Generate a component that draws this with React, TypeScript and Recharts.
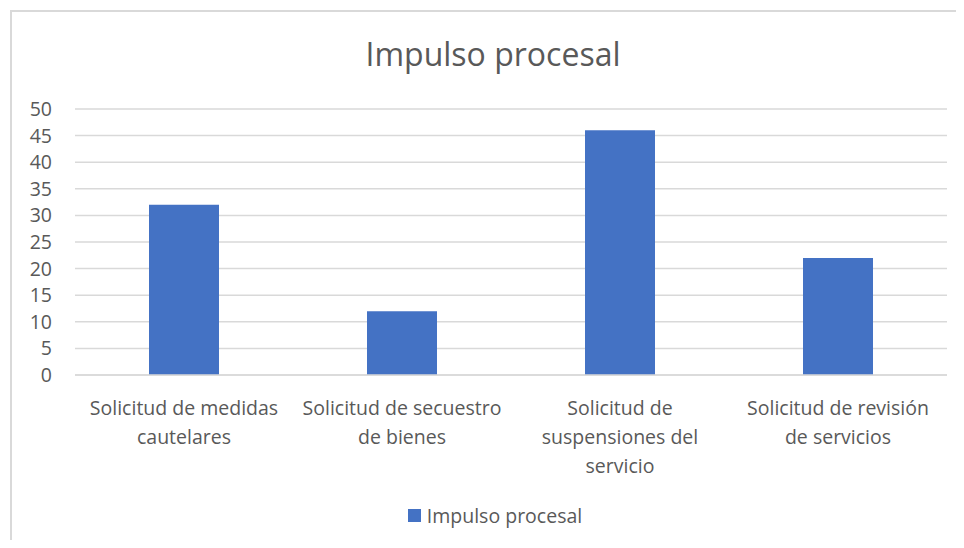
import React from "react";
import { BarChart, Bar, XAxis, YAxis, CartesianGrid, Legend } from "recharts";

const categories = [
  "Solicitud de medidas\ncautelares",
  "Solicitud de secuestro\nde bienes",
  "Solicitud de\nsuspensiones del\nservicio",
  "Solicitud de revisión\nde servicios",
];
const impulsoValues = [32, 12, 46, 22];
const yTicks = [0, 5, 10, 15, 20, 25, 30, 35, 40, 45, 50];

const seriesName = "Impulso procesal";
const barColor = "#4472c4";
const textColor = "#595959";
const gridColor = "#d9d9d9";
const font = "'Open Sans', sans-serif";

const data = categories.map((name, i) => ({ name, value: impulsoValues[i] }));

interface TickProps {
  x?: number;
  y?: number;
  payload?: { value: string };
}

function CategoryTick({ x = 0, y = 0, payload }: TickProps) {
  const lines = (payload?.value ?? "").split("\n");
  return (
    <text
      x={x}
      y={y}
      textAnchor="middle"
      fill={textColor}
      fontSize={19.5}
      fontFamily={font}
    >
      {lines.map((line, i) => (
        <tspan key={i} x={x} dy={i === 0 ? 32 : 29}>
          {line}
        </tspan>
      ))}
    </text>
  );
}

function LegendContent() {
  return (
    <div
      style={{
        display: "flex",
        alignItems: "center",
        justifyContent: "center",
        paddingLeft: 26,
        fontFamily: font,
        fontSize: 19.5,
        color: textColor,
      }}
    >
      <span
        style={{
          display: "inline-block",
          width: 13,
          height: 13,
          background: barColor,
          marginRight: 6,
        }}
      />
      {seriesName}
    </div>
  );
}

export default function App() {
  return (
    <div
      style={{
        position: "relative",
        margin: -8,
        width: 964,
        height: 548,
        overflow: "hidden",
        background: "#fff",
      }}
    >
      <div
        style={{
          position: "absolute",
          left: 10,
          top: 10,
          width: 1000,
          height: 600,
          border: `2px solid ${gridColor}`,
          boxSizing: "border-box",
        }}
      />
      <div
        style={{
          position: "absolute",
          left: 0,
          width: 986,
          top: 32,
          textAlign: "center",
          fontFamily: font,
          fontSize: 32,
          color: textColor,
        }}
      >
        {seriesName}
      </div>
      <div style={{ position: "absolute", left: 0, top: 0 }}>
        <BarChart
          width={964}
          height={548}
          data={data}
          margin={{ top: 109, right: 17, bottom: 46, left: 10 }}
        >
          <CartesianGrid vertical={false} stroke={gridColor} strokeWidth={1.5} />
          <XAxis
            dataKey="name"
            axisLine={{ stroke: gridColor, strokeWidth: 1.5 }}
            tickLine={false}
            interval={0}
            tick={<CategoryTick />}
            height={100}
          />
          <YAxis
            domain={[0, 50]}
            ticks={yTicks}
            interval={0}
            width={65}
            axisLine={false}
            tickLine={false}
            tickSize={0}
            tickMargin={23}
            tick={{ fill: textColor, fontSize: 19.5, fontFamily: font }}
          />
          <Legend
            verticalAlign="bottom"
            wrapperStyle={{ top: 502, left: 0, width: 964 }}
            content={<LegendContent />}
          />
          <Bar
            dataKey="value"
            name={seriesName}
            fill={barColor}
            barSize={70}
            isAnimationActive={false}
          />
        </BarChart>
      </div>
    </div>
  );
}
